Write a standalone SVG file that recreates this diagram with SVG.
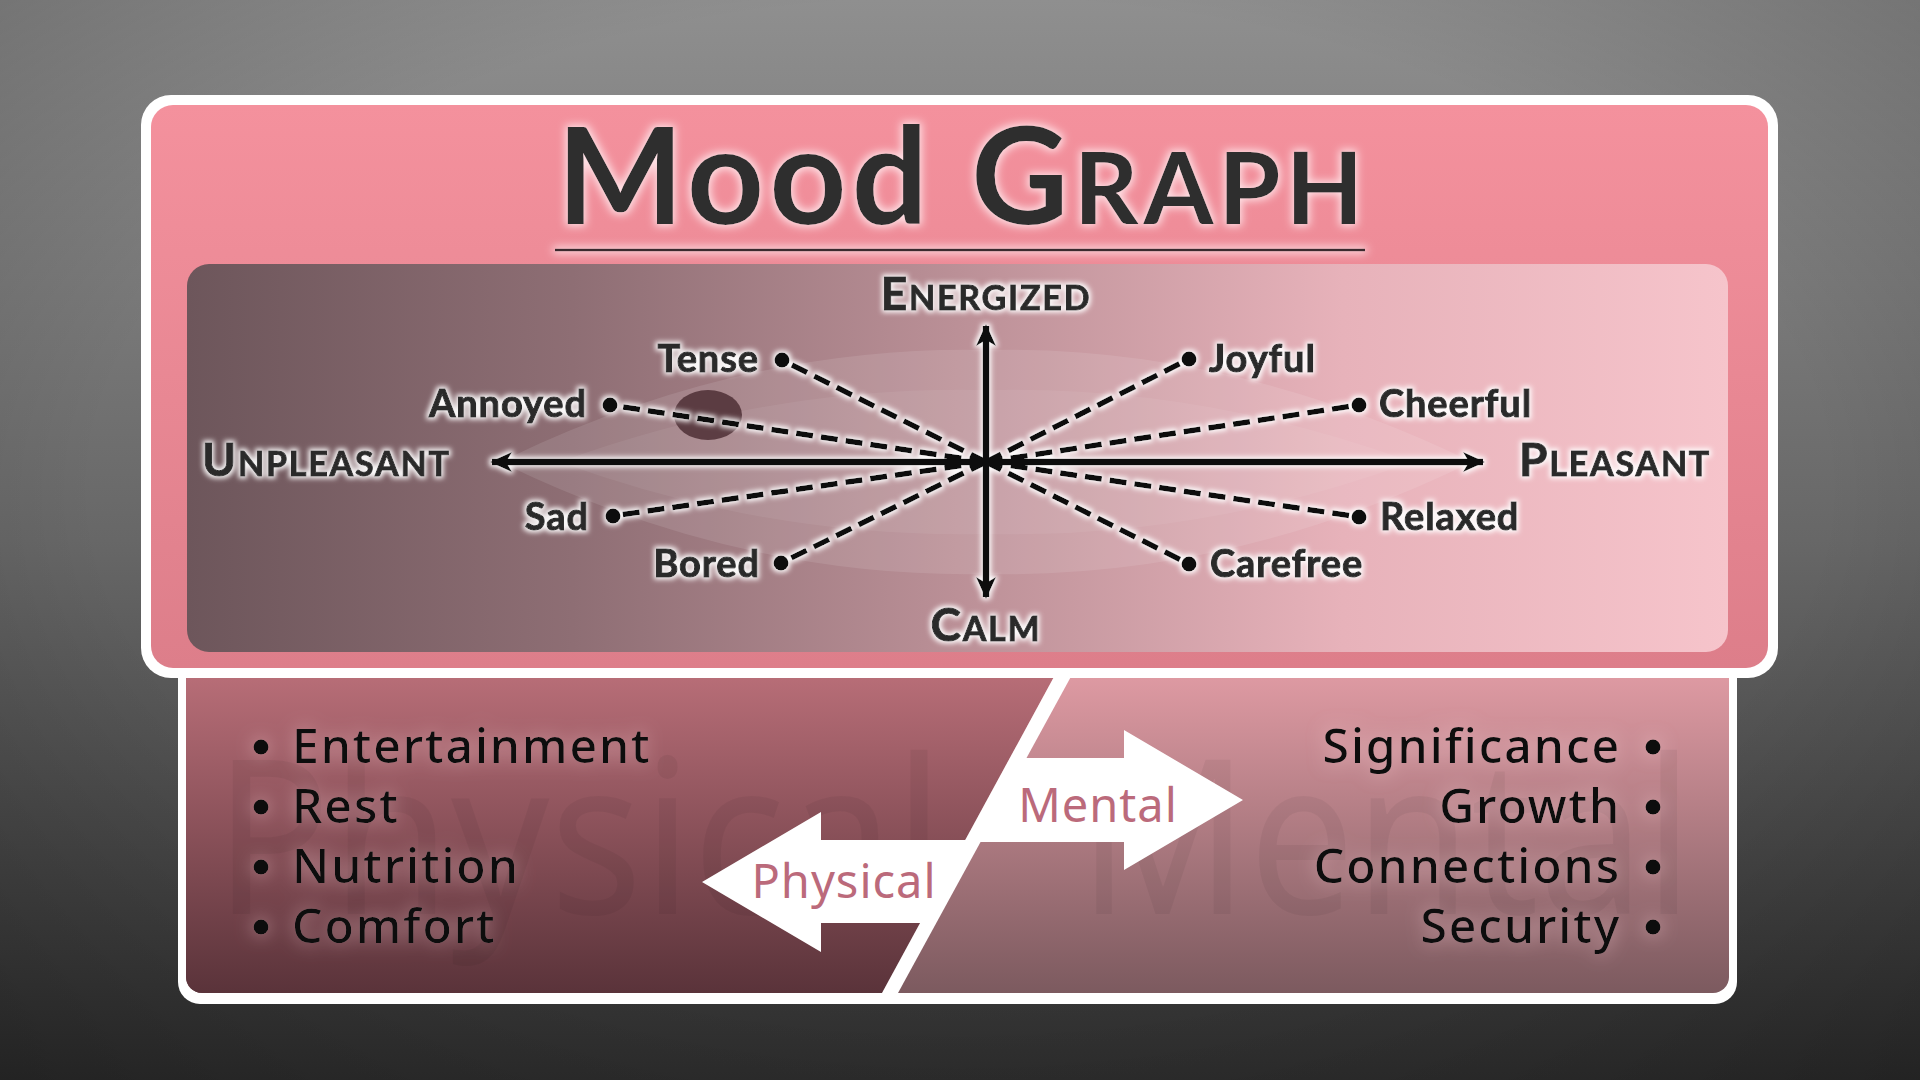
<svg xmlns="http://www.w3.org/2000/svg" width="1920" height="1080" viewBox="0 0 1920 1080">
<defs>
<linearGradient id="bg" x1="0" y1="0" x2="0" y2="1">
<stop offset="0" stop-color="#8f8f8f"/>
<stop offset="0.5" stop-color="#676767"/>
<stop offset="1" stop-color="#2e2e2e"/>
</linearGradient>
<radialGradient id="vig" cx="0.5" cy="0.45" r="0.75">
<stop offset="0.6" stop-color="#000" stop-opacity="0"/>
<stop offset="1" stop-color="#000" stop-opacity="0.25"/>
</radialGradient>
<linearGradient id="topPink" x1="0" y1="0" x2="0" y2="1">
<stop offset="0" stop-color="#f4919d"/>
<stop offset="1" stop-color="#dd7e8a"/>
</linearGradient>
<linearGradient id="graphBg" x1="0" y1="0" x2="1" y2="0">
<stop offset="0" stop-color="#6d565b"/>
<stop offset="0.25" stop-color="#8e6e74"/>
<stop offset="0.5" stop-color="#bb9097"/>
<stop offset="0.75" stop-color="#e7b2ba"/>
<stop offset="1" stop-color="#f6c4cb"/>
</linearGradient>
<linearGradient id="leftFill" x1="0" y1="0" x2="0" y2="1">
<stop offset="0" stop-color="#c2747e"/>
<stop offset="1" stop-color="#5a333a"/>
</linearGradient>
<linearGradient id="rightFill" x1="0" y1="0" x2="0" y2="1">
<stop offset="0" stop-color="#e9a1aa"/>
<stop offset="1" stop-color="#7c5a5f"/>
</linearGradient>
<clipPath id="bottomClip">
<rect x="186" y="640" width="1543" height="353" rx="16"/>
</clipPath>
<filter id="glow" x="-20%" y="-50%" width="140%" height="200%">
<feMorphology in="SourceAlpha" operator="dilate" radius="2" result="d"/>
<feGaussianBlur in="d" stdDeviation="2.5" result="b"/>
<feFlood flood-color="#ffffff" flood-opacity="0.95"/>
<feComposite in2="b" operator="in" result="g"/>
<feMerge><feMergeNode in="g"/><feMergeNode in="SourceGraphic"/></feMerge>
</filter>
<filter id="titleGlow" x="-10%" y="-30%" width="120%" height="160%">
<feMorphology in="SourceAlpha" operator="dilate" radius="2" result="d"/>
<feGaussianBlur in="d" stdDeviation="4" result="b"/>
<feFlood flood-color="#ffe6ea" flood-opacity="0.95"/>
<feComposite in2="b" operator="in" result="g"/>
<feMerge><feMergeNode in="g"/><feMergeNode in="SourceGraphic"/></feMerge>
</filter>
<filter id="softGlow" x="-20%" y="-60%" width="140%" height="220%">
<feGaussianBlur in="SourceAlpha" stdDeviation="9" result="b"/>
<feFlood flood-color="#ffd6dc" flood-opacity="0.55"/>
<feComposite in2="b" operator="in" result="g"/>
<feMerge><feMergeNode in="g"/><feMergeNode in="SourceGraphic"/></feMerge>
</filter>
<marker id="ah" viewBox="0 0 24 24" refX="20" refY="12" markerWidth="24" markerHeight="24" markerUnits="userSpaceOnUse" orient="auto">
<path d="M0,2 L22,12 L0,22 L6,12 Z" fill="#111"/>
</marker>
<style>
.lbl{font-family:"Lato","Liberation Sans",sans-serif;font-weight:700;font-size:38px;fill:#2a2a2a;stroke:#2a2a2a;stroke-width:1.1px;letter-spacing:0.9px}
.ax{font-family:"Lato","Liberation Sans",sans-serif;font-weight:700;fill:#2a2a2a;stroke:#2a2a2a;stroke-width:1px;letter-spacing:1.8px}
.big{font-size:46px}
.sm{font-size:34px}
.dash{stroke:#111;stroke-width:5.5;stroke-dasharray:17 8;fill:none}
.dot{fill:#111}
.axis{stroke:#111;stroke-width:6.5;fill:none}
.item{font-family:"Noto Sans","Liberation Sans",sans-serif;font-weight:500;font-size:48px;fill:#111;letter-spacing:2px}
.bul{fill:#111}
.wm{font-family:"Noto Sans","Liberation Sans",sans-serif;font-size:215px;fill:#000;fill-opacity:0.05}
.arrowTxt{font-family:"Noto Sans","Liberation Sans",sans-serif;font-size:47px;fill:#bb6a7b;letter-spacing:1px}
</style>
</defs>

<rect width="1920" height="1080" fill="url(#bg)"/>
<rect width="1920" height="1080" fill="url(#vig)"/>

<!-- Bottom panel -->
<g id="bottom-panel">
<rect x="178" y="640" width="1559" height="364" rx="22" fill="#ffffff"/>
<g clip-path="url(#bottomClip)">
<rect x="186" y="640" width="1543" height="353" fill="url(#rightFill)"/>
<polygon points="186,640 1074,640 882,993 186,993" fill="url(#leftFill)"/>
<text class="wm" x="214" y="914" textLength="730" lengthAdjust="spacingAndGlyphs">Physical</text>
<text class="wm" x="1078" y="914" textLength="615" lengthAdjust="spacingAndGlyphs">Mental</text>
</g>
</g>

<g id="divider">
<polygon points="1074,640 1091,640 898,993 882,993" fill="#ffffff"/>
</g>

<g id="physical-list" filter="url(#softGlow)">
<circle class="bul" cx="261" cy="747" r="7.5"/>
<circle class="bul" cx="261" cy="807" r="7.5"/>
<circle class="bul" cx="261" cy="867" r="7.5"/>
<circle class="bul" cx="261" cy="927" r="7.5"/>
<text class="item" x="292" y="763">Entertainment</text>
<text class="item" x="292" y="823">Rest</text>
<text class="item" x="292" y="883">Nutrition</text>
<text class="item" x="292" y="943">Comfort</text>
</g>

<g id="mental-list" filter="url(#softGlow)">
<circle class="bul" cx="1653" cy="747" r="7.5"/>
<circle class="bul" cx="1653" cy="807" r="7.5"/>
<circle class="bul" cx="1653" cy="867" r="7.5"/>
<circle class="bul" cx="1653" cy="927" r="7.5"/>
<text class="item" x="1621" y="763" text-anchor="end">Significance</text>
<text class="item" x="1621" y="823" text-anchor="end">Growth</text>
<text class="item" x="1621" y="883" text-anchor="end">Connections</text>
<text class="item" x="1621" y="943" text-anchor="end">Security</text>
</g>

<g id="mental-arrow">
<polygon points="1018,758 1124,758 1124,730 1243,800 1124,870 1124,842 972,842" fill="#ffffff"/>
<text class="arrowTxt" x="1098" y="822" text-anchor="middle">Mental</text>
</g>

<g id="physical-arrow">
<polygon points="975,840 821,840 821,812 702,882 821,952 821,923 930,923" fill="#ffffff"/>
<text class="arrowTxt" x="844" y="898" text-anchor="middle">Physical</text>
</g>

<!-- Top panel -->
<g id="top-panel">
<rect x="141" y="95" width="1637" height="583" rx="30" fill="#ffffff"/>
<rect x="151" y="105" width="1617" height="563" rx="22" fill="url(#topPink)"/>
</g>

<g id="title" filter="url(#titleGlow)">
<text x="557" y="224" textLength="806" font-family="Lato, 'Liberation Sans', sans-serif" font-weight="700" fill="#2d2d2d"><tspan font-size="134">Mood </tspan><tspan font-size="134">G</tspan><tspan font-size="100">RAPH</tspan></text>
<line x1="555" y1="250" x2="1365" y2="250" stroke="#3a2a2f" stroke-width="2.5"/>
</g>

<g id="graph-panel">
<rect x="187" y="264" width="1541" height="388" rx="22" fill="url(#graphBg)"/>
<path d="M500,462 Q740,345 986,350 Q1232,345 1472,462 Q1232,579 986,574 Q740,579 500,462 Z" fill="#ffffff" fill-opacity="0.1"/>
<path d="M560,462 Q770,385 986,390 Q1202,385 1412,462 Q1202,539 986,534 Q770,539 560,462 Z" fill="#ffffff" fill-opacity="0.06"/>
<ellipse cx="708" cy="415" rx="34" ry="25" fill="#4e2f35" fill-opacity="0.85"/>
</g>

<g id="connectors" filter="url(#glow)">
<line class="dash" x1="986" y1="462" x2="782" y2="360"/>
<line class="dash" x1="986" y1="462" x2="610" y2="405"/>
<line class="dash" x1="986" y1="462" x2="613" y2="516"/>
<line class="dash" x1="986" y1="462" x2="781" y2="563"/>
<line class="dash" x1="986" y1="462" x2="1189" y2="359"/>
<line class="dash" x1="986" y1="462" x2="1359" y2="405"/>
<line class="dash" x1="986" y1="462" x2="1359" y2="517"/>
<line class="dash" x1="986" y1="462" x2="1189" y2="564"/>
<line class="axis" x1="986" y1="462" x2="492" y2="462" marker-end="url(#ah)"/>
<line class="axis" x1="986" y1="462" x2="1483" y2="462" marker-end="url(#ah)"/>
<line class="axis" x1="986" y1="462" x2="986" y2="326" marker-end="url(#ah)"/>
<line class="axis" x1="986" y1="462" x2="986" y2="597" marker-end="url(#ah)"/>
<circle class="dot" cx="782" cy="360" r="7.5"/>
<circle class="dot" cx="610" cy="405" r="7.5"/>
<circle class="dot" cx="613" cy="516" r="7.5"/>
<circle class="dot" cx="781" cy="563" r="7.5"/>
<circle class="dot" cx="1189" cy="359" r="7.5"/>
<circle class="dot" cx="1359" cy="405" r="7.5"/>
<circle class="dot" cx="1359" cy="517" r="7.5"/>
<circle class="dot" cx="1189" cy="564" r="7.5"/>
</g>

<g id="axis-labels" filter="url(#glow)">
<text class="ax" x="986" y="310" text-anchor="middle"><tspan class="big">E</tspan><tspan class="sm">NERGIZED</tspan></text>
<text class="ax" x="986" y="641" text-anchor="middle"><tspan class="big">C</tspan><tspan class="sm">ALM</tspan></text>
<text class="ax" x="202" y="476"><tspan class="big">U</tspan><tspan class="sm">NPLEASANT</tspan></text>
<text class="ax" x="1519" y="476"><tspan class="big">P</tspan><tspan class="sm">LEASANT</tspan></text>
</g>

<g id="node-tense" filter="url(#glow)"><text class="lbl" x="759" y="372" text-anchor="end">Tense</text></g>
<g id="node-annoyed" filter="url(#glow)"><text class="lbl" x="587" y="417" text-anchor="end">Annoyed</text></g>
<g id="node-sad" filter="url(#glow)"><text class="lbl" x="589" y="530" text-anchor="end">Sad</text></g>
<g id="node-bored" filter="url(#glow)"><text class="lbl" x="760" y="577" text-anchor="end">Bored</text></g>
<g id="node-joyful" filter="url(#glow)"><text class="lbl" x="1209" y="372">Joyful</text></g>
<g id="node-cheerful" filter="url(#glow)"><text class="lbl" x="1379" y="417">Cheerful</text></g>
<g id="node-relaxed" filter="url(#glow)"><text class="lbl" x="1380" y="530">Relaxed</text></g>
<g id="node-carefree" filter="url(#glow)"><text class="lbl" x="1210" y="577">Carefree</text></g>
</svg>
